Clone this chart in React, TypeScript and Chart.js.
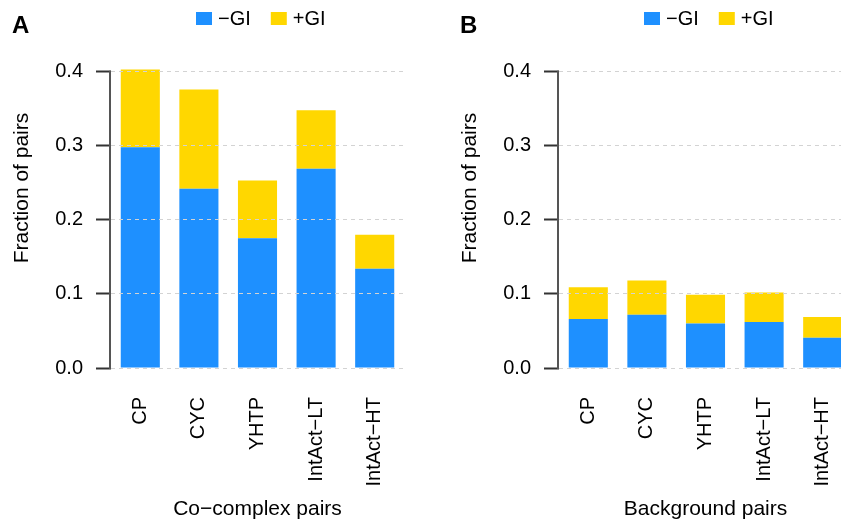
import React, { useEffect, useRef } from "react";
import { Chart, registerables } from "chart.js";

Chart.register(...registerables);

const categories = ["CP", "CYC", "YHTP", "IntAct\u2212LT", "IntAct\u2212HT"];
const seriesLabels = ["\u2212GI", "+GI"];
const seriesColors = ["#1E90FF", "#FFD700"];
const coComplexNeg = [0.298, 0.242, 0.175, 0.269, 0.134];
const coComplexPos = [0.105, 0.134, 0.078, 0.079, 0.046];
const backgroundNeg = [0.066, 0.072, 0.06, 0.062, 0.041];
const backgroundPos = [0.043, 0.046, 0.039, 0.04, 0.028];
const yTicks = [0, 0.1, 0.2, 0.3, 0.4];

const FONT = "'Liberation Sans', Arial, Helvetica, sans-serif";

const panelDecor = {
  id: "panelDecor",
  afterDraw(chart: any, _args: any, opts: any) {
    const ctx = chart.ctx;
    const area = chart.chartArea;
    const y = chart.scales.y;
    ctx.save();
    // R-style axis line from first to last tick
    ctx.strokeStyle = "#555555";
    ctx.lineWidth = 2;
    ctx.beginPath();
    const x = area.left - 1;
    ctx.moveTo(x, y.getPixelForValue(yTicks[0]) + 1);
    ctx.lineTo(x, y.getPixelForValue(yTicks[yTicks.length - 1]) - 1);
    ctx.stroke();
    // panel letter
    ctx.fillStyle = "#000";
    ctx.font = `bold 24px ${FONT}`;
    ctx.textBaseline = "alphabetic";
    ctx.textAlign = "left";
    ctx.fillText(opts.letter, 12, 33);
    // legend
    ctx.font = `20px ${FONT}`;
    ctx.textBaseline = "middle";
    let lx = area.left + 85;
    chart.data.datasets.forEach((ds: any) => {
      ctx.fillStyle = ds.backgroundColor;
      ctx.fillRect(lx, 12, 16, 13);
      ctx.fillStyle = "#000";
      ctx.fillText(ds.label, lx + 22, 19);
      lx += 22 + ctx.measureText(ds.label).width + 20;
    });
    ctx.restore();
  },
};

function Panel({ letter, neg, pos, xTitle, left }: { letter: string; neg: number[]; pos: number[]; xTitle: string; left: number }) {
  const ref = useRef<HTMLCanvasElement | null>(null);
  useEffect(() => {
    if (!ref.current) return;
    const font = { family: FONT, size: 20 };
    const titleFont = { family: FONT, size: 21 };
    const chart = new Chart(ref.current, {
      type: "bar",
      data: {
        labels: categories,
        datasets: [
          { label: seriesLabels[0], data: neg, backgroundColor: seriesColors[0], borderWidth: 0, clip: false as any },
          { label: seriesLabels[1], data: pos, backgroundColor: seriesColors[1], borderWidth: 0, clip: false as any },
        ],
      },
      options: {
        animation: false,
        responsive: true,
        maintainAspectRatio: false,
        layout: { padding: { left: 0, right: 44, top: 8, bottom: 0 } },
        datasets: { bar: { barPercentage: 0.667, categoryPercentage: 1 } },
        plugins: {
          legend: { display: false },
          tooltip: { enabled: false },
          panelDecor: { letter },
        } as any,
        scales: {
          x: {
            stacked: true,
            offset: true,
            grid: { display: false, drawTicks: false },
            border: { display: false },
            ticks: { minRotation: 90, maxRotation: 90, autoSkip: false, padding: 29, color: "#000", font },
            title: { display: true, text: xTitle, color: "#000", font: titleFont, padding: { top: 0, bottom: 0 } },
            afterFit: (s: any) => {
              s.height = 154;
              s.paddingLeft = 0;
              s.paddingRight = 0;
            },
          },
          y: {
            stacked: true,
            min: 0,
            max: 0.486,
            afterBuildTicks: (s: any) => {
              s.ticks = yTicks.map((v) => ({ value: v }));
            },
            ticks: { callback: (v: any) => Number(v).toFixed(1), padding: 13, color: "#000", font },
            grid: {
              color: "#d3d3d3",
              lineWidth: 1,
              z: 1,
              drawTicks: true,
              tickLength: 15,
              tickColor: "#333333",
              tickWidth: 2,
              tickBorderDash: [],
            } as any,
            border: { display: false, dash: [4, 4] },
            title: { display: true, text: "Fraction of pairs", color: "#000", font: titleFont, padding: { top: 10, bottom: 0 } },
            afterFit: (s: any) => {
              s.width = 111;
              s.paddingTop = 0;
              s.paddingBottom = 0;
            },
          },
        },
      },
      plugins: [panelDecor],
    });
    return () => chart.destroy();
  }, []);
  return (
    <div style={{ position: "absolute", left, top: 0, width: 448, height: 522 }}>
      <canvas ref={ref} />
    </div>
  );
}

export default function App() {
  return (
    <div style={{ position: "fixed", left: 0, top: 0, width: 841, height: 522, overflow: "hidden", background: "#fff" }}>
      <Panel letter="A" neg={coComplexNeg} pos={coComplexPos} xTitle={"Co\u2212complex pairs"} left={0} />
      <Panel letter="B" neg={backgroundNeg} pos={backgroundPos} xTitle="Background pairs" left={448} />
    </div>
  );
}
